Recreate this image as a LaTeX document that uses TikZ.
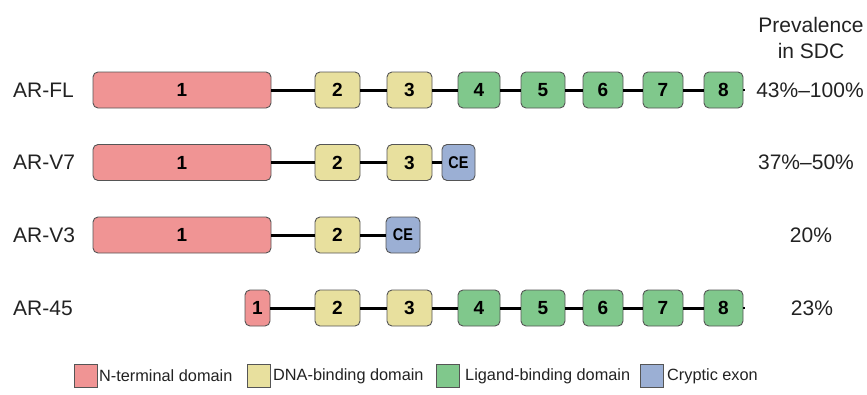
\documentclass[tikz,border=0pt]{standalone}
\usepackage{fontspec}
\setmainfont{Liberation Sans}
\definecolor{ntdc}{HTML}{F09494}
\definecolor{dbdc}{HTML}{E8E09E}
\definecolor{lbdc}{HTML}{80C88C}
\definecolor{cec}{HTML}{9BAFD4}
\definecolor{edgec}{HTML}{555555}
\definecolor{txtc}{HTML}{222222}
\tikzset{
  exon/.style={draw=edgec, line width=0.9pt, rounded corners=5pt, minimum height=36pt, inner sep=0pt,
    font=\fontsize{19}{19}\selectfont\bfseries, text=black},
  ntd/.style={exon, fill=ntdc},
  dbd/.style={exon, fill=dbdc},
  lbd/.style={exon, fill=lbdc},
  cex/.style={exon, fill=cec, font=\fontsize{17}{17}\selectfont\bfseries},
  conn/.style={line width=3pt, black},
  rowlab/.style={anchor=west, inner sep=0pt, text=txtc, font=\fontsize{21}{21}\selectfont},
  prev/.style={inner sep=0pt, text=txtc, font=\fontsize{21}{21}\selectfont},
  legbox/.style={draw=edgec, line width=0.9pt, minimum width=23pt, minimum height=23pt, inner sep=0pt},
  legtxt/.style={anchor=west, inner sep=0pt, text=txtc, font=\fontsize{16.3}{16.3}\selectfont},
}
\newcommand{\cetxt}{\scalebox{0.85}[1]{CE}}
\begin{document}
\begin{tikzpicture}[x=1pt, y=-1pt]
\useasboundingbox (0,0) rectangle (867,394);
% header
\node[prev, align=center, font=\fontsize{21}{26}\selectfont] (hdr) at (811,38) {Prevalence\\in SDC};
% Row 1: AR-FL
\node[rowlab] (lfl) at (13,90) {AR-FL};
\node[ntd, minimum width=178pt] (fl1) at (182,90) {1};
\node[dbd, minimum width=45pt] (fl2) at (337.5,90) {2};
\node[dbd, minimum width=45pt] (fl3) at (409.5,90) {3};
\node[lbd, minimum width=42pt] (fl4) at (479,90) {4};
\node[lbd, minimum width=44pt] (fl5) at (543,90) {5};
\node[lbd, minimum width=40pt] (fl6) at (603,90) {6};
\node[lbd, minimum width=40pt] (fl7) at (663,90) {7};
\node[lbd, minimum width=39pt] (fl8) at (723.5,90) {8};
\coordinate (fle) at (745,90);
\node[prev] (pfl) at (810,90) {43\%–100\%};
\draw[conn] (fl1.east) -- (fl2.west);
\draw[conn] (fl2.east) -- (fl3.west);
\draw[conn] (fl3.east) -- (fl4.west);
\draw[conn] (fl4.east) -- (fl5.west);
\draw[conn] (fl5.east) -- (fl6.west);
\draw[conn] (fl6.east) -- (fl7.west);
\draw[conn] (fl7.east) -- (fl8.west);
\draw[line width=1.2pt] (fl8.east) -- (fle);
% Row 2: AR-V7
\node[rowlab] (lv7) at (13,162.5) {AR-V7};
\node[ntd, minimum width=178pt] (v71) at (182,162.5) {1};
\node[dbd, minimum width=45pt] (v72) at (337.5,162.5) {2};
\node[dbd, minimum width=45pt] (v73) at (409.5,162.5) {3};
\node[cex, minimum width=33pt] (v7c) at (458.5,162.5) {\cetxt};
\node[prev] (pv7) at (806,162.5) {37\%–50\%};
\draw[conn] (v71.east) -- (v72.west);
\draw[conn] (v72.east) -- (v73.west);
\draw[conn] (v73.east) -- (v7c.west);
% Row 3: AR-V3
\node[rowlab] (lv3) at (13,235) {AR-V3};
\node[ntd, minimum width=178pt] (v31) at (182,235) {1};
\node[dbd, minimum width=45pt] (v32) at (337.5,235) {2};
\node[cex, minimum width=34pt] (v3c) at (403,235) {\cetxt};
\node[prev] (pv3) at (811,235) {20\%};
\draw[conn] (v31.east) -- (v32.west);
\draw[conn] (v32.east) -- (v3c.west);
% Row 4: AR-45
\node[rowlab] (l45) at (13,308) {AR-45};
\node[ntd, minimum width=25pt] (a1) at (257.5,308) {1};
\node[dbd, minimum width=45pt] (a2) at (337.5,308) {2};
\node[dbd, minimum width=45pt] (a3) at (409.5,308) {3};
\node[lbd, minimum width=42pt] (a4) at (479,308) {4};
\node[lbd, minimum width=44pt] (a5) at (543,308) {5};
\node[lbd, minimum width=40pt] (a6) at (603,308) {6};
\node[lbd, minimum width=40pt] (a7) at (663,308) {7};
\node[lbd, minimum width=39pt] (a8) at (723.5,308) {8};
\coordinate (ae) at (745,308);
\node[prev] (p45) at (812,308) {23\%};
\draw[conn] (a1.east) -- (a2.west);
\draw[conn] (a2.east) -- (a3.west);
\draw[conn] (a3.east) -- (a4.west);
\draw[conn] (a4.east) -- (a5.west);
\draw[conn] (a5.east) -- (a6.west);
\draw[conn] (a6.east) -- (a7.west);
\draw[conn] (a7.east) -- (a8.west);
\draw[line width=1.2pt] (a8.east) -- (ae);
% Legend
\node[legbox, fill=ntdc] (k1) at (85.5,376) {};
\node[legtxt] (t1) at (99,376) {N-terminal domain};
\node[legbox, fill=dbdc] (k2) at (259,376) {};
\node[legtxt] (t2) at (273,376) {DNA-binding domain};
\node[legbox, fill=lbdc] (k3) at (448,376) {};
\node[legtxt] (t3) at (465,376) {Ligand-binding domain};
\node[legbox, fill=cec] (k4) at (652,376) {};
\node[legtxt] (t4) at (667,376) {Cryptic exon};
\end{tikzpicture}
\end{document}
